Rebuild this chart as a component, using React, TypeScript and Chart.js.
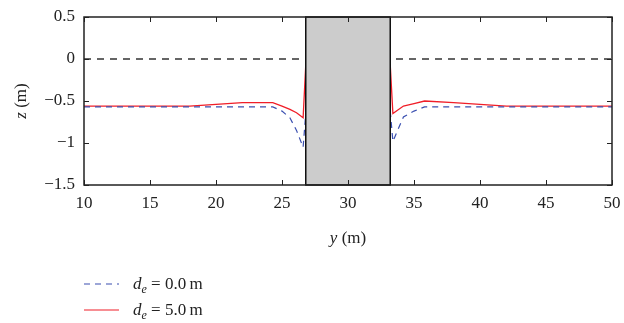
import React, { useEffect, useRef } from "react";
import { Chart, registerables } from "chart.js";
Chart.register(...registerables);

const yPos = [10, 12, 14, 16, 18, 20, 22, 24, 24.3, 25, 25.6, 26.1, 26.6, 26.8, 30, 33.2, 33.4, 34.2, 35, 35.8, 38, 40, 42, 44, 46, 48, 50];
const zRed = [-0.56, -0.56, -0.56, -0.56, -0.56, -0.54, -0.52, -0.52, -0.52, -0.56, -0.6, -0.64, -0.7, -0.07, null, -0.07, -0.65, -0.56, -0.53, -0.5, -0.52, -0.54, -0.56, -0.56, -0.56, -0.56, -0.56];
const zBlue = [-0.57, -0.57, -0.57, -0.57, -0.57, -0.57, -0.57, -0.57, -0.57, -0.62, -0.7, -0.85, -1.05, -0.65, null, -0.62, -0.98, -0.69, -0.62, -0.57, -0.57, -0.57, -0.57, -0.57, -0.57, -0.57, -0.57];
const zeroLineY = [10, 50];
const zeroLineZ = [0, 0];
const breakwater = [26.8, 33.2];
const xTicks = [10, 15, 20, 25, 30, 35, 40, 45, 50];
const zTicks = [0.5, 0, -0.5, -1, -1.5];
const legendLabels = ["0.0", "5.0"];

const BLUE = "#3a4fb0";
const RED = "#f01e28";
const FONT = "'Liberation Serif', 'DejaVu Serif', serif";

const fmt = (v: number) => (v < 0 ? "\u2212" + String(Math.abs(v)) : String(v));

const framePlugin = {
  id: "frame",
  afterDatasetsDraw(chart: any) {
    const { ctx, chartArea: a, scales } = chart;
    const xs = scales.x, ys = scales.y;
    ctx.save();
    // breakwater box
    const bx0 = xs.getPixelForValue(breakwater[0]);
    const bx1 = xs.getPixelForValue(breakwater[1]);
    ctx.fillStyle = "#cccccc";
    ctx.fillRect(bx0, a.top, bx1 - bx0, a.bottom - a.top);
    ctx.strokeStyle = "#111";
    ctx.lineWidth = 1.5;
    ctx.strokeRect(bx0, a.top, bx1 - bx0, a.bottom - a.top);
    // frame
    ctx.strokeStyle = "#222";
    ctx.lineWidth = 1.5;
    ctx.strokeRect(a.left, a.top, a.right - a.left, a.bottom - a.top);
    // ticks
    ctx.lineWidth = 1;
    ctx.beginPath();
    for (const t of xTicks) {
      const px = Math.round(xs.getPixelForValue(t)) + 0.5;
      ctx.moveTo(px, a.bottom); ctx.lineTo(px, a.bottom - 5);
      ctx.moveTo(px, a.top); ctx.lineTo(px, a.top + 5);
    }
    for (const t of zTicks) {
      const py = Math.round(ys.getPixelForValue(t)) + 0.5;
      ctx.moveTo(a.left, py); ctx.lineTo(a.left + 5, py);
      ctx.moveTo(a.right, py); ctx.lineTo(a.right - 5, py);
    }
    ctx.stroke();
    // axis titles
    ctx.fillStyle = "#222";
    ctx.font = "italic 17px " + FONT;
    const cx = (a.left + a.right) / 2;
    const t1 = "y", t2 = " (m)";
    ctx.textBaseline = "middle";
    const w1 = ctx.measureText(t1).width;
    ctx.font = "17px " + FONT;
    const w2 = ctx.measureText(t2).width;
    let sx = cx - (w1 + w2) / 2;
    ctx.textAlign = "left";
    ctx.font = "italic 17px " + FONT;
    ctx.fillText(t1, sx, 239);
    ctx.font = "17px " + FONT;
    ctx.fillText(t2, sx + w1, 239);
    // z title rotated
    ctx.save();
    ctx.translate(22, (a.top + a.bottom) / 2);
    ctx.rotate(-Math.PI / 2);
    ctx.font = "italic 17px " + FONT;
    const zw1 = ctx.measureText("z").width;
    ctx.font = "17px " + FONT;
    const zw2 = ctx.measureText(" (m)").width;
    const zs = -(zw1 + zw2) / 2;
    ctx.font = "italic 17px " + FONT;
    ctx.fillText("z", zs, 0);
    ctx.font = "17px " + FONT;
    ctx.fillText(" (m)", zs + zw1, 0);
    ctx.restore();
    // legend
    const rows = [
      { color: BLUE, dash: [6, 5], y: 284, label: legendLabels[0] },
      { color: RED, dash: [], y: 310, label: legendLabels[1] },
    ];
    for (const r of rows) {
      ctx.strokeStyle = r.color;
      ctx.lineWidth = 1.2;
      ctx.setLineDash(r.dash);
      ctx.beginPath();
      ctx.moveTo(84, r.y); ctx.lineTo(119, r.y);
      ctx.stroke();
      ctx.setLineDash([]);
      ctx.fillStyle = "#222";
      ctx.textAlign = "left";
      ctx.textBaseline = "alphabetic";
      let x = 133;
      const base = r.y + 5;
      ctx.font = "italic 17px " + FONT;
      ctx.fillText("d", x, base);
      x += ctx.measureText("d").width;
      ctx.font = "italic 12px " + FONT;
      ctx.fillText("e", x, base + 4);
      x += ctx.measureText("e").width;
      ctx.font = "17px " + FONT;
      const rest = " = " + r.label + "\u2009m";
      ctx.fillText(rest, x, base);
    }
    ctx.restore();
  },
};

export default function App() {
  const ref = useRef<HTMLCanvasElement>(null);
  useEffect(() => {
    const chart = new Chart(ref.current!, {
      type: "scatter",
      data: {
        datasets: [
          {
            label: "zero",
            data: zeroLineY.map((x, i) => ({ x, y: zeroLineZ[i] })),
            showLine: true,
            borderColor: "#333",
            borderWidth: 1.3,
            borderDash: [7, 6],
            pointRadius: 0,
          },
          {
            label: "de = 0.0 m",
            data: yPos.map((x, i) => ({ x, y: zBlue[i] })) as any,
            showLine: true,
            borderColor: BLUE,
            borderWidth: 1.2,
            borderDash: [6, 5],
            pointRadius: 0,
            spanGaps: false,
          },
          {
            label: "de = 5.0 m",
            data: yPos.map((x, i) => ({ x, y: zRed[i] })) as any,
            showLine: true,
            borderColor: RED,
            borderWidth: 1.3,
            pointRadius: 0,
            spanGaps: false,
          },
        ],
      },
      options: {
        animation: false,
        responsive: false,
        maintainAspectRatio: false,
        layout: { padding: { left: 0, right: 12, top: 17, bottom: 0 } },
        plugins: { legend: { display: false }, tooltip: { enabled: false } },
        scales: {
          x: {
            type: "linear",
            min: 10,
            max: 50,
            afterFit: (s: any) => { s.height = 138; s.paddingLeft = 0; s.paddingRight = 0; },
            afterBuildTicks: (s: any) => { s.ticks = xTicks.map((v) => ({ value: v })); },
            grid: { display: false, drawTicks: false },
            border: { display: false },
            ticks: { color: "#222", font: { family: FONT, size: 17 }, padding: 8, maxRotation: 0, callback: (v: any) => fmt(Number(v)) },
          },
          y: {
            type: "linear",
            min: -1.5,
            max: 0.5,
            afterFit: (s: any) => { s.width = 84; s.paddingTop = 0; s.paddingBottom = 0; },
            afterBuildTicks: (s: any) => { s.ticks = zTicks.map((v) => ({ value: v })); },
            grid: { display: false, drawTicks: false },
            border: { display: false },
            ticks: { color: "#222", font: { family: FONT, size: 17 }, padding: 9, callback: (v: any) => fmt(Number(v)) },
          },
        },
      },
      plugins: [framePlugin],
    });
    return () => chart.destroy();
  }, []);
  return (
    <div style={{ position: "fixed", left: 0, top: 0, width: 624, height: 323, background: "#fff" }}>
      <canvas ref={ref} width={624} height={323} style={{ width: 624, height: 323 }} />
    </div>
  );
}
